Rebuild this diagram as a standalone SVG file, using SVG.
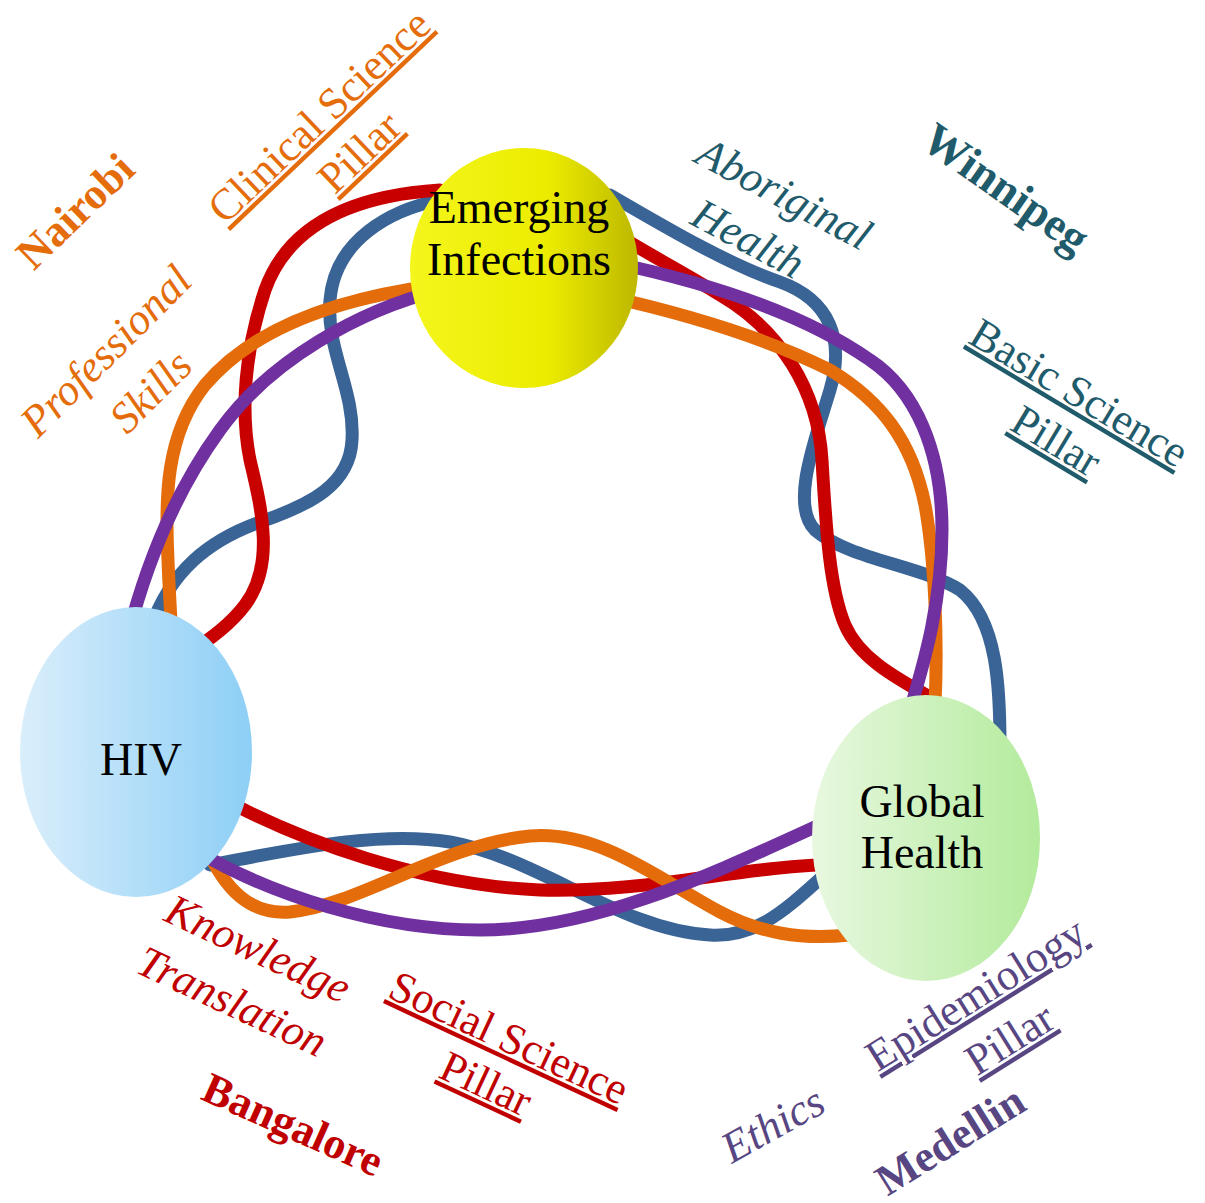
<svg xmlns="http://www.w3.org/2000/svg" width="1205" height="1203" viewBox="0 0 1205 1203">
<defs>
<linearGradient id="gEI" x1="0" y1="0" x2="1" y2="0">
<stop offset="0" stop-color="#f4f61c"/><stop offset="0.6" stop-color="#ecec00"/><stop offset="1" stop-color="#bdb800"/>
</linearGradient>
<linearGradient id="gHIV" x1="0" y1="0" x2="1" y2="0">
<stop offset="0" stop-color="#daeefb"/><stop offset="1" stop-color="#8dcff6"/>
</linearGradient>
<linearGradient id="gGH" x1="0" y1="0" x2="1" y2="0">
<stop offset="0" stop-color="#e8f8e0"/><stop offset="1" stop-color="#b3eb9c"/>
</linearGradient>
<style>
.loop{fill:none;stroke-width:13;stroke-linecap:round}
.red{stroke:#c80000}.blue{stroke:#3a6496}.orange{stroke:#e46c0a}.purple{stroke:#7030a0}
.node{font-family:"Liberation Serif","Times New Roman",serif;font-size:46px;fill:#000;text-anchor:middle}
.lbl{font-family:"Liberation Serif","Times New Roman",serif;text-anchor:middle}
.it{font-style:italic;font-size:44px}
.bd{font-weight:bold;font-size:44px}
.ul{text-decoration:underline;font-size:44px}
.co{fill:#e46c0a}.ct{fill:#1f5b6b}.cr{fill:#c00000}.cp{fill:#574682}
</style>
</defs>
<rect width="1205" height="1203" fill="#fff"/>
<g id="connectors">
<path class="loop blue" d="M 440 200 C 390 210, 335 240, 330 300 C 326 350, 355 390, 352 440 C 350 485, 310 505, 260 522 C 210 540, 170 570, 150 630"/>
<path class="loop blue" d="M 210 865 C 290 850, 380 830, 450 842 C 540 858, 620 930, 710 935 C 760 938, 790 905, 830 870"/>
<path class="loop blue" d="M 1000 745 C 1000 690, 998 620, 960 590 C 920 565, 850 560, 815 530 C 790 505, 815 440, 830 390 C 845 340, 830 300, 780 282 C 730 265, 670 230, 610 195"/>
<path class="loop red" d="M 440 190 C 360 195, 290 220, 265 290 C 245 350, 240 410, 250 460 C 262 510, 275 565, 245 605 C 230 625, 210 640, 185 655"/>
<path class="loop red" d="M 225 800 C 300 840, 420 885, 540 890 C 650 893, 740 866, 840 864"/>
<path class="loop red" d="M 935 700 C 900 680, 860 660, 845 625 C 830 590, 826 530, 822 460 C 818 390, 780 330, 720 295 C 680 270, 640 250, 610 230"/>
<path class="loop orange" d="M 440 285 C 360 295, 260 320, 205 385 C 165 435, 165 500, 168 560 C 169 590, 171 615, 172 645"/>
<path class="loop orange" d="M 205 845 C 225 890, 250 915, 290 912 C 360 905, 440 845, 530 836 C 600 830, 660 880, 720 912 C 760 933, 800 940, 850 935"/>
<path class="loop orange" d="M 935 705 C 938 640, 935 560, 925 505 C 912 440, 880 400, 830 370 C 770 340, 690 315, 610 297"/>
<path class="loop purple" d="M 440 290 C 360 310, 270 360, 220 430 C 180 485, 150 550, 128 635"/>
<path class="loop purple" d="M 195 850 C 270 895, 380 930, 480 930 C 600 930, 720 870, 835 818"/>
<path class="loop purple" d="M 910 710 C 925 660, 942 600, 942 530 C 942 450, 915 390, 870 360 C 810 318, 720 285, 610 262"/>
</g>
<g id="node-emerging">
<ellipse cx="524" cy="268" rx="114" ry="120" fill="url(#gEI)"/>
<text class="node" x="519" y="223">Emerging</text>
<text class="node" x="519" y="275">Infections</text>
</g>
<g id="node-hiv">
<ellipse cx="136" cy="752" rx="116" ry="145" fill="url(#gHIV)"/>
<text class="node" x="141" y="775">HIV</text>
</g>
<g id="node-global">
<ellipse cx="926" cy="838" rx="114" ry="143" fill="url(#gGH)"/>
<text class="node" x="922" y="817">Global</text>
<text class="node" x="922" y="868">Health</text>
</g>
<g id="labels-orange">
<text class="lbl bd co" transform="translate(75,211) rotate(-44)" y="15">Nairobi</text>
<text class="lbl ul co" transform="translate(321,118) rotate(-43.5)" y="12">Clinical Science</text>
<text class="lbl ul co" transform="translate(361,154) rotate(-43.5)" y="12">Pillar</text>
<text class="lbl it co" transform="translate(107,352) rotate(-45)" y="13">Professional</text>
<text class="lbl it co" transform="translate(151,392) rotate(-45)" y="14">Skills</text>
</g>
<g id="labels-teal">
<text class="lbl it ct" transform="translate(783,196) rotate(28)" y="12">Aboriginal</text>
<text class="lbl it ct" transform="translate(748,239) rotate(28)" y="14">Health</text>
<text class="lbl bd ct" style="font-size:46px" transform="translate(1004,191) rotate(35)" y="12">Winnipeg</text>
<text class="lbl ul ct" transform="translate(1078,395) rotate(31)" y="12">Basic Science</text>
<text class="lbl ul ct" transform="translate(1055,443) rotate(31)" y="12">Pillar</text>
</g>
<g id="labels-red">
<text class="lbl it cr" transform="translate(257,951) rotate(25)" y="12">Knowledge</text>
<text class="lbl it cr" transform="translate(232,1002) rotate(25)" y="14">Translation</text>
<text class="lbl ul cr" transform="translate(508,1040) rotate(25)" y="12">Social Science</text>
<text class="lbl ul cr" transform="translate(485,1086) rotate(25)" y="12">Pillar</text>
<text class="lbl bd cr" transform="translate(292,1127) rotate(24)" y="12">Bangalore</text>
</g>
<g id="labels-purple">
<text class="lbl it cp" transform="translate(773,1125) rotate(-29)" y="14">Ethics</text>
<text class="lbl ul cp" transform="translate(978,998) rotate(-32)" y="10">Epidemiology</text>
<text class="lbl ul cp" transform="translate(1011,1041) rotate(-32)" y="12">Pillar</text>
<text class="lbl bd cp" transform="translate(950,1140) rotate(-32)" y="15">Medellin</text>
</g>
</svg>
